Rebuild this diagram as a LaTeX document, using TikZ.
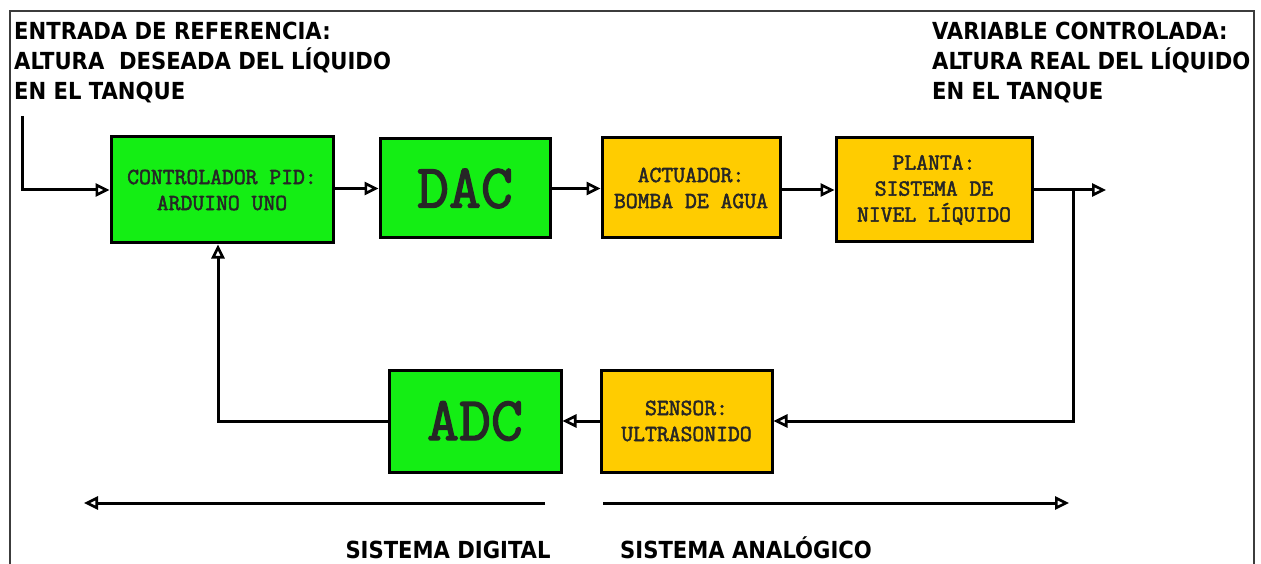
\documentclass[tikz,border=0pt]{standalone}
\usepackage{fontspec}
\setmainfont{Liberation Serif}
\newfontfamily\headfont{DejaVu Sans Condensed}[BoldFont={DejaVu Sans Condensed Bold}]
\newfontfamily\boxfont{Latin Modern Mono}[FakeBold=2.2]
\usetikzlibrary{arrows.meta}
\definecolor{blockgreen}{RGB}{20,238,20}
\definecolor{blockyellow}{RGB}{255,204,0}
\definecolor{framegray}{RGB}{60,60,60}
\begin{document}
\begin{tikzpicture}[x=1pt,y=-1pt,
  block/.style={draw=black,line width=3pt,inner sep=0pt,align=center,
    text=black!85,font=\boxfont\bfseries\fontsize{23}{26}\selectfont},
  gblock/.style={block,fill=blockgreen},
  yblock/.style={block,fill=blockyellow},
  bigtext/.style={font=\boxfont\bfseries\fontsize{62}{62}\selectfont},
  header/.style={font=\headfont\bfseries\fontsize{23.5}{30}\selectfont,
    align=left,inner sep=0pt,anchor=base west,text=black},
  link/.style={line width=3pt,-{Triangle[open,length=14pt,width=13pt,line width=2.6pt]}}]
\useasboundingbox (0,0) rectangle (1261,564);
% outer frame (open at the bottom)
\draw[framegray,line width=2.4pt] (10,564) -- (10,11) -- (1254,11) -- (1254,564);

% blocks
\node[gblock,minimum width=222pt,minimum height=106pt] (pid) at (222,190)
  {CONTROLADOR PID:\\ARDUINO UNO};
\node[gblock,bigtext,minimum width=170pt,minimum height=99pt] (dac) at (465,188.5) {DAC};
\node[yblock,minimum width=178pt,minimum height=100pt] (act) at (691,188)
  {ACTUADOR:\\BOMBA DE AGUA};
\node[yblock,minimum width=196pt,minimum height=104pt] (plant) at (934,190)
  {PLANTA:\\SISTEMA DE\\NIVEL LÍQUIDO};
\node[gblock,bigtext,minimum width=172pt,minimum height=102pt] (adc) at (475,421) {ADC};
\node[yblock,minimum width=171pt,minimum height=102pt] (sens) at (686.5,421)
  {SENSOR:\\ULTRASONIDO};

% headers (base anchor sits on the last line)
\node[header] (ref) at (14,100)
  {ENTRADA DE REFERENCIA:\\ALTURA \ DESEADA DEL LÍQUIDO\\EN EL TANQUE};
\node[header] (out) at (932,100)
  {VARIABLE CONTROLADA:\\ALTURA REAL DEL LÍQUIDO\\EN EL TANQUE};

% signal path
\coordinate (in) at (22,116);
\coordinate (branch) at (1073,190);
\coordinate (y) at (1106,190);
\draw[link] (in) |- (pid.west);
\draw[link] (pid.east |- dac) -- (dac.west);
\draw[link] (dac.east) -- (act.west |- dac);
\draw[link] (act.east |- plant) -- (plant.west);
\draw[link] (plant.east) -- (y);
\draw[link] (branch) |- (sens.east);
\draw[link] (sens.west) -- (adc.east);
\draw[link] (adc.west) -| (pid.south -| 218,0);

% domain markers
\coordinate (dR) at (545,503);
\coordinate (dL) at (84,503);
\coordinate (aL) at (603,503);
\coordinate (aR) at (1069,503);
\draw[link] (dR) -- (dL);
\draw[link] (aL) -- (aR);
\node[header,anchor=base] (dig) at (448,558) {SISTEMA DIGITAL};
\node[header,anchor=base west] (ana) at (620,558) {SISTEMA ANALÓGICO};
\end{tikzpicture}
\end{document}
